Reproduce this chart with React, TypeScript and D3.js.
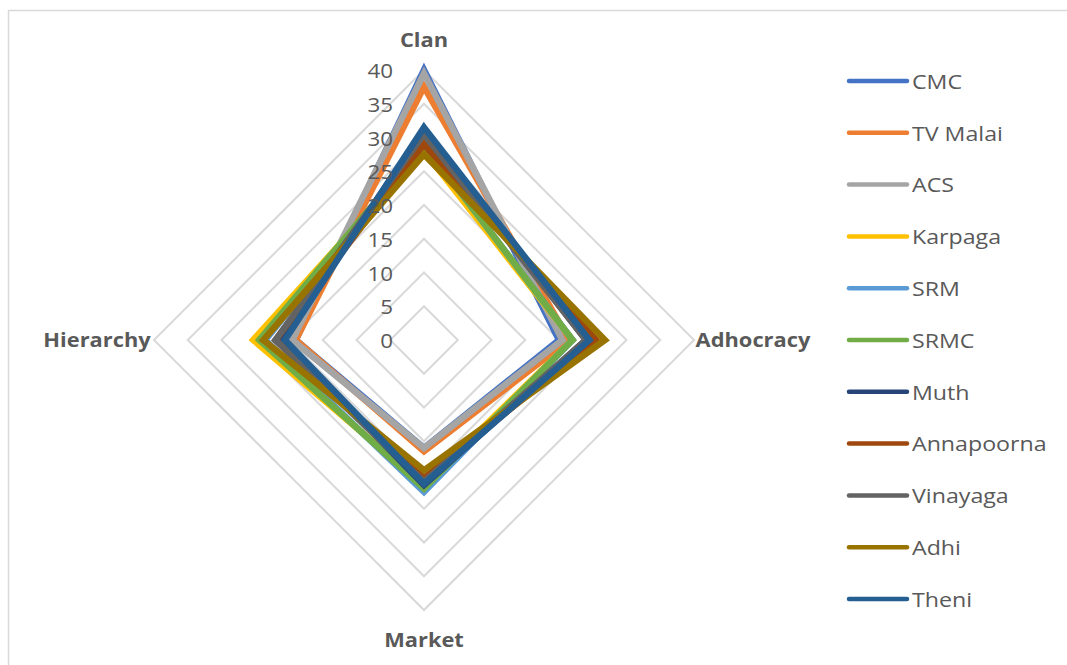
import React from "react";
import * as d3 from "d3";

const axes = ["Clan", "Adhocracy", "Market", "Hierarchy"];
const ticks = [0, 5, 10, 15, 20, 25, 30, 35, 40];
const seriesNames = ["CMC", "TV Malai", "ACS", "Karpaga", "SRM", "SRMC", "Muth", "Annapoorna", "Vinayaga", "Adhi", "Theni"];
const colors = ["#4472C4", "#ED7D31", "#A5A5A5", "#FFC000", "#5B9BD5", "#70AD47", "#264478", "#9E480E", "#636363", "#997300", "#255E91"];
const CMC = [40, 20, 16, 19];
const TVMalai = [37.5, 21.5, 16.5, 19];
const ACS = [39.5, 20.5, 16, 19.5];
const Karpaga = [28, 22, 21.5, 25.3];
const SRM = [29, 22, 22.5, 23.5];
const SRMC = [29, 22, 22, 24.4];
const Muth = [31, 24, 21.5, 21];
const Annapoorna = [29, 25.5, 20.5, 22];
const Vinayaga = [30.5, 24, 21, 22];
const Adhi = [27.5, 26.8, 19.3, 23.8];
const Theni = [31.5, 24.5, 21.3, 20.6];
const seriesValues = [CMC, TVMalai, ACS, Karpaga, SRM, SRMC, Muth, Annapoorna, Vinayaga, Adhi, Theni];

const W = 1067, H = 665;
const cx = 424, cy = 340, R = 270;
const FONT = "'Open Sans', 'Noto Sans', sans-serif";
const TXT = "#595959";

export default function App() {
  const r = d3.scaleLinear().domain([0, 40]).range([0, R]);
  const angle = (i: number) => (i * Math.PI) / 2;
  const radial = d3
    .lineRadial<number>()
    .angle((_, i) => angle(i))
    .radius((d) => r(d))
    .curve(d3.curveLinearClosed);
  const grid = ticks.filter((t) => t > 0);
  const legendY = d3.scaleLinear().domain([0, seriesNames.length - 1]).range([81, 599]);
  const axisLabelPos = [
    { x: cx, y: 40 },
    { x: 753, y: 340 },
    { x: cx, y: 640 },
    { x: 97, y: 340 },
  ];
  return (
    <svg width={W} height={H} style={{ position: "absolute", left: 0, top: 0, background: "#fff" }}>
      <rect x={8.5} y={10.5} width={1070} height={670} fill="#fff" stroke="#D9D9D9" strokeWidth={1.5} />
      <g transform={`translate(${cx},${cy})`}>
        {grid.map((t) => (
          <path
            key={t}
            d={radial(axes.map(() => t)) || ""}
            fill="none"
            stroke="#D9D9D9"
            strokeWidth={2}
          />
        ))}
        {seriesValues.map((vals, si) => (
          <path
            key={seriesNames[si]}
            d={radial(vals) || ""}
            fill="none"
            stroke={colors[si]}
            strokeWidth={6.5}
            strokeLinejoin="miter"
          />
        ))}
        {ticks.map((t) => (
          <g key={t} transform={`translate(-31,${-r(t)}) scale(1.12,1)`}>
            <text
              textAnchor="end"
              dominantBaseline="central"
              fontFamily={FONT}
              fontSize={20}
              fill={TXT}
            >
              {t}
            </text>
          </g>
        ))}
      </g>
      {axes.map((a, i) => (
        <g key={a} transform={`translate(${axisLabelPos[i].x},${axisLabelPos[i].y}) scale(1.15,1)`}>
          <text
            textAnchor="middle"
            dominantBaseline="central"
            fontFamily={FONT}
            fontWeight="bold"
            fontSize={19}
            fill={TXT}
          >
            {a}
          </text>
        </g>
      ))}
      {seriesNames.map((n, i) => (
        <g key={n}>
          <line
            x1={849}
            x2={907}
            y1={legendY(i)}
            y2={legendY(i)}
            stroke={colors[i]}
            strokeWidth={4.5}
            strokeLinecap="round"
          />
          <g transform={`translate(912,${legendY(i)}) scale(1.16,1)`}>
            <text
              dominantBaseline="central"
              fontFamily={FONT}
              fontSize={20}
              fill={TXT}
            >
              {n}
            </text>
          </g>
        </g>
      ))}
    </svg>
  );
}
